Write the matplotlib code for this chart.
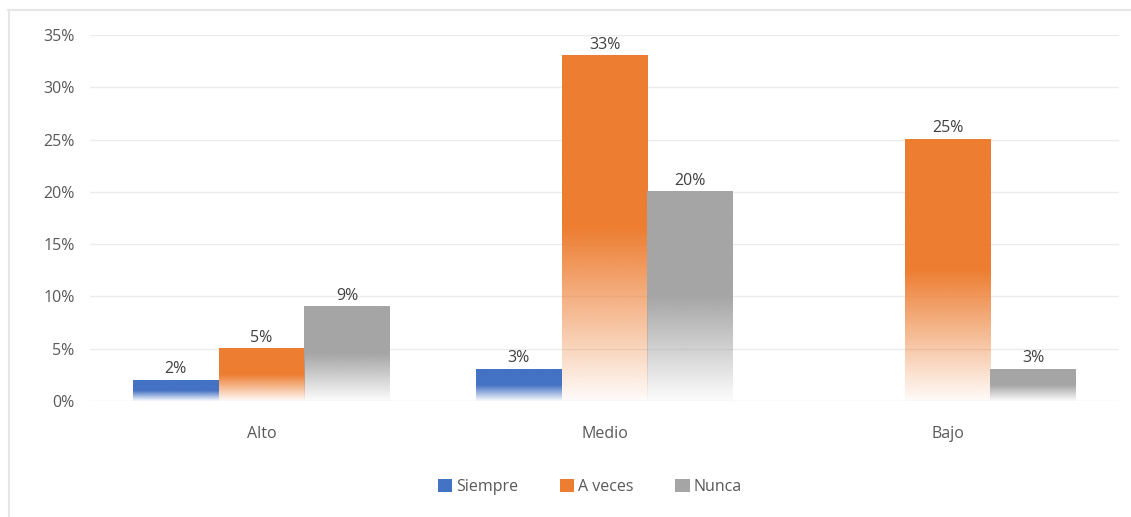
import numpy as np
import matplotlib
matplotlib.use('Agg')
import matplotlib.pyplot as plt
from matplotlib.colors import to_rgb
from matplotlib.lines import Line2D
from matplotlib.patches import Patch

# Data
categories = ['Alto', 'Medio', 'Bajo']
series_names = ['Siempre', 'A veces', 'Nunca']
siempre = [2, 3, 0]
a_veces = [5, 33, 25]
nunca = [9, 20, 3]
series_values = [siempre, a_veces, nunca]
colors = ['#4472c4', '#ed7d31', '#a5a5a5']
yticks = [0, 5, 10, 15, 20, 25, 30, 35]

plt.rcParams['font.family'] = ['Open Sans', 'DejaVu Sans']

fig = plt.figure(figsize=(11.31, 5.17), dpi=100)
ax = fig.add_axes([90 / 1131, 1 - 401 / 517, (1119 - 90) / 1131, (401 - 35) / 517])

x = np.arange(len(categories))
width = 0.25


def gradient_image(color, n=200):
    # solid on the top half, fading to white toward the base
    r, g, b = to_rgb(color)
    t = np.linspace(0, 1, n)
    alpha = np.where(t < 0.5, 1.0, 1.0 - (t - 0.5) / 0.5 * 0.97)
    img = np.zeros((n, 1, 4))
    img[:, 0, 0] = r
    img[:, 0, 1] = g
    img[:, 0, 2] = b
    img[:, 0, 3] = alpha
    return img


for i, (name, vals, c) in enumerate(zip(series_names, series_values, colors)):
    bars = ax.bar(x + (i - 1) * width, vals, width, color='none', edgecolor='none', zorder=2)
    for rect, v in zip(bars, vals):
        if v <= 0:
            continue
        x0, w, h = rect.get_x(), rect.get_width(), rect.get_height()
        ax.imshow(gradient_image(c), extent=[x0, x0 + w, 0, h], aspect='auto',
                  zorder=2, interpolation='bilinear')
        ax.text(x0 + w / 2, h + 0.3, f'{v}%', ha='center', va='bottom',
                fontsize=11.5, color='#404040')

ax.set_xlim(-0.5, 2.5)
ax.set_ylim(0, 35)
ax.set_yticks(yticks)
ax.set_yticklabels([f'{t}%' for t in yticks])
ax.set_xticks(x)
ax.set_xticklabels(categories)
ax.tick_params(axis='both', length=0, labelsize=11.5, labelcolor='#595959')
ax.tick_params(axis='y', pad=11)
ax.tick_params(axis='x', pad=18)
ax.grid(axis='y', color='#ececec', linewidth=1, zorder=0)
ax.set_axisbelow(True)
for s in ax.spines.values():
    s.set_visible(False)

handles = [Patch(facecolor=c, edgecolor='none') for c in colors]
fig.legend(handles, series_names, loc='center', bbox_to_anchor=(590 / 1131, 1 - 487 / 517),
           ncol=3, frameon=False, fontsize=11.5, handlelength=0.9, handleheight=0.8,
           handletextpad=0.25, columnspacing=2.6, labelcolor='#595959')

# light chart border (top and left edges)
fig.add_artist(Line2D([8 / 1131, 1], [1 - 10 / 517, 1 - 10 / 517], transform=fig.transFigure,
                      color='#e6e6e6', linewidth=1.5))
fig.add_artist(Line2D([9 / 1131, 9 / 1131], [0, 1 - 10 / 517], transform=fig.transFigure,
                      color='#e6e6e6', linewidth=1.5))

fig.savefig('out.png', dpi=100)
